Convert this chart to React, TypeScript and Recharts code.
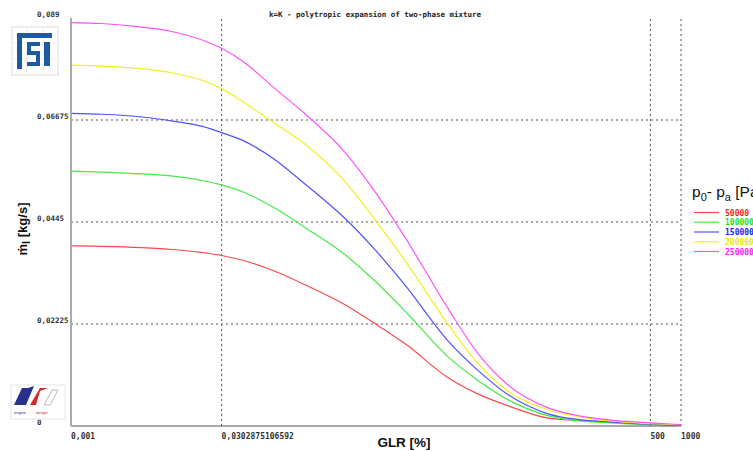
import { LineChart, Line, XAxis, YAxis, ReferenceLine, Legend } from "recharts";

// GLR [%] sample points (log axis)
const glr = [
  0.001, 0.002, 0.005, 0.01, 0.02, 0.0302875106592, 0.05, 0.1, 0.2, 0.5, 1, 2, 5, 10, 20, 50, 100, 200, 500, 1000,
];

// liquid mass flow [kg/s] for each pressure difference p0 - pa [Pa]
const p50000 = [
  0.0393, 0.0392, 0.0389, 0.0385, 0.0378, 0.0372, 0.0361, 0.0338, 0.0308, 0.0264, 0.0222, 0.0177, 0.0107, 0.007,
  0.0044, 0.0017, 0.0012, 0.0008, 0.0004, 0.0002,
];
const p100000 = [
  0.0556, 0.0554, 0.055, 0.0545, 0.0535, 0.0526, 0.051, 0.0476, 0.0433, 0.0373, 0.0314, 0.0247, 0.0153, 0.01,
  0.0057, 0.0022, 0.0011, 0.0007, 0.0003, 0.0002,
];
const p150000 = [
  0.0682, 0.068, 0.0674, 0.0665, 0.0653, 0.064, 0.0622, 0.0582, 0.0528, 0.0452, 0.0382, 0.0303, 0.0188, 0.0122,
  0.0068, 0.0026, 0.0014, 0.0009, 0.0004, 0.0002,
];
const p200000 = [
  0.0787, 0.0785, 0.0779, 0.077, 0.0753, 0.0736, 0.0706, 0.0661, 0.0615, 0.0532, 0.0447, 0.0356, 0.0225, 0.0137,
  0.0076, 0.0035, 0.002, 0.0011, 0.0005, 0.0002,
];
const p250000 = [
  0.088, 0.0878, 0.087, 0.086, 0.0841, 0.0824, 0.0794, 0.0737, 0.0681, 0.0596, 0.0508, 0.0406, 0.026, 0.0159,
  0.0089, 0.0039, 0.0022, 0.0013, 0.0007, 0.0003,
];

const xTicks = [0.001, 0.0302875106592, 500, 1000];
const yTicks = [0, 0.02225, 0.0445, 0.06675, 0.089];
const xGrid = [0.0302875106592, 500, 1000];
const yGrid = [0.02225, 0.0445, 0.06675];

const seriesNames = ["50000", "100000", "150000", "200000", "250000"];
const seriesKeys = ["p50000", "p100000", "p150000", "p200000", "p250000"];
const lineColors = ["#ff4848", "#48e848", "#5050ff", "#f0f020", "#ff50ff"];
const textColors = ["#ff2020", "#20e020", "#2020ff", "#e8e800", "#ff20ff"];

const data = glr.map((g, i) => ({
  glr: g,
  p50000: p50000[i],
  p100000: p100000[i],
  p150000: p150000[i],
  p200000: p200000[i],
  p250000: p250000[i],
}));

const tickFont = "'DejaVu Sans Mono', monospace";
const labelFont = "'Liberation Sans', Arial, sans-serif";

function fmt(v: number) {
  return String(v).replace(".", ",");
}

function YTick({ y, payload }: any) {
  return (
    <text x={37} y={y - 1} fontFamily={tickFont} fontWeight="bold" fontSize={7.5} fill="#333" textAnchor="start">
      {fmt(payload.value)}
    </text>
  );
}

function XTick({ x, y, payload }: any) {
  return (
    <text x={x} y={y + 5} fontFamily={tickFont} fontWeight="bold" fontSize={8} fill="#333" textAnchor="start">
      {fmt(payload.value)}
    </text>
  );
}

// legend rows sit ~9.75px apart, title above them
function PressureLegend() {
  return (
    <svg width={61} height={80} style={{ display: "block", overflow: "hidden" }}>
      <text x={0} y={17} fontFamily={labelFont} fontSize={15.5} fill="#111">
        p<tspan fontSize={11} dy={4}>0</tspan>
        <tspan dy={-4}>- p</tspan>
        <tspan fontSize={11} dy={4}>a</tspan>
        <tspan dy={-4}> [Pa]</tspan>
      </text>
      {seriesNames.map((name, i) => {
        const ry = 32.5 + i * 9.75;
        return (
          <g key={name}>
            <line x1={2} x2={27} y1={ry} y2={ry} stroke={lineColors[i]} strokeWidth={1.2} />
            <text
              x={33}
              y={ry + 3}
              fontFamily={tickFont}
              fontWeight="bold"
              fontSize={8}
              fill={textColors[i]}
            >
              {name}
            </text>
          </g>
        );
      })}
    </svg>
  );
}

export default function App() {
  return (
    <div
      style={{
        position: "fixed",
        left: 0,
        top: 0,
        width: 753,
        height: 451,
        overflow: "hidden",
        background: "#fff",
      }}
    >
      <LineChart width={753} height={451} data={data} margin={{ top: 18, right: 72, bottom: 0, left: 0 }}>
        <XAxis
          dataKey="glr"
          type="number"
          scale="log"
          domain={[0.001, 1000]}
          ticks={xTicks}
          allowDataOverflow
          height={25}
          axisLine={{ stroke: "#555", strokeWidth: 1 }}
          tickLine={false}
          tick={<XTick />}
          interval={0}
        />
        <YAxis
          type="number"
          domain={[0, 0.089]}
          ticks={yTicks}
          width={71}
          axisLine={{ stroke: "#aaa", strokeWidth: 2 }}
          tickLine={false}
          tick={<YTick />}
          interval={0}
        />
        {yGrid.map((v) => (
          <ReferenceLine key={"y" + v} y={v} stroke="#555" strokeDasharray="2 3" />
        ))}
        {xGrid.map((v) => (
          <ReferenceLine key={"x" + v} x={v} stroke="#555" strokeDasharray="2 3" />
        ))}
        <Legend
          layout="horizontal"
          verticalAlign="middle"
          align="center"
          content={<PressureLegend />}
          wrapperStyle={{ position: "absolute", left: 692, top: 180, width: 61 }}
        />
        {seriesKeys.map((k, i) => (
          <Line
            key={k}
            type="monotone"
            dataKey={k}
            name={seriesNames[i]}
            stroke={lineColors[i]}
            strokeWidth={1.2}
            dot={false}
            isAnimationActive={false}
          />
        ))}
      </LineChart>
      <svg
        width={753}
        height={451}
        style={{ position: "absolute", left: 0, top: 0, pointerEvents: "none" }}
      >
        <text
          x={375}
          y={17}
          textAnchor="middle"
          fontFamily={tickFont}
          fontWeight="bold"
          fontSize={7.5}
          fill="#222"
        >
          k=K - polytropic expansion of two-phase mixture
        </text>
        <text
          x={404}
          y={447}
          textAnchor="middle"
          fontFamily={labelFont}
          fontWeight="bold"
          fontSize={13.5}
          fill="#111"
        >
          GLR [%]
        </text>
        <text
          transform="translate(27, 229) rotate(-90)"
          textAnchor="middle"
          fontFamily={labelFont}
          fontWeight="bold"
          fontSize={13}
          fill="#111"
        >
          ṁ<tspan dy={3} fontSize={11}>l</tspan>
          <tspan dy={-3}> [kg/s]</tspan>
        </text>
        {/* FSI logo */}
        <g>
          <rect x={12} y={27} width={46} height={48} fill="none" stroke="#ddd" />
          <path d="M12 43 H58 M12 59 H58 M27 27 V75 M43 27 V75" stroke="#eee" fill="none" />
          <rect x={17} y={33} width={35} height={5} fill="#1d5a9e" />
          <rect x={17} y={33} width={5} height={36} fill="#1d5a9e" />
          <path d="M27 42 H40 V46 H31 V51 H40 V66 H27 V62 H36 V55 H27 Z" fill="#1d5a9e" />
          <rect x={44} y={42} width={6} height={24} fill="#1d5a9e" />
        </g>
        {/* engine design logo */}
        <g>
          <rect x={11} y={385} width={54} height={34} fill="none" stroke="#e4e4e4" />
          <polygon points="14,405 22,388 28,388 34,386 26,405" fill="#2a2f8c" />
          <polygon points="30,405 40,388 48,388 40,391 36,405" fill="#d8262a" />
          <polygon points="44,405 52,390 58,390 50,405" fill="none" stroke="#bbb" />
          <text x={14} y={414} fontSize={4} fill="#2a2f8c" fontFamily="sans-serif">
            engine
          </text>
          <text x={36} y={414} fontSize={4} fill="#d8262a" fontFamily="sans-serif">
            design
          </text>
        </g>
      </svg>
    </div>
  );
}
